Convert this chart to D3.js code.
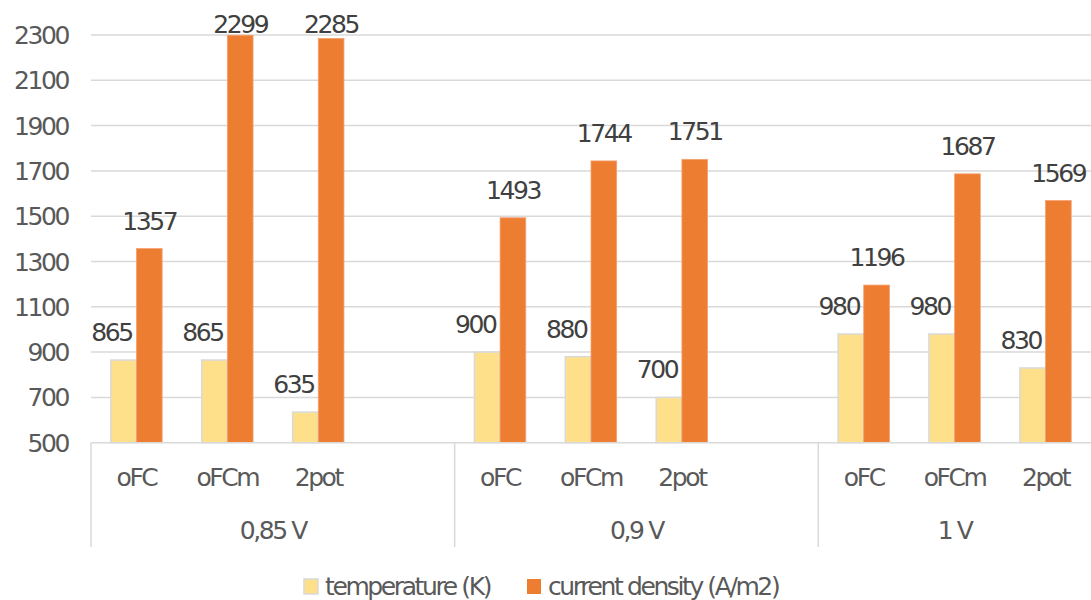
<!DOCTYPE html>
<html>
<head>
<meta charset="utf-8">
<script src="https://cdn.jsdelivr.net/npm/d3@7"></script>
<style>
  body { margin: 0; background: #fff; }
  text { font-family: "DejaVu Sans", sans-serif; font-size: 25px; letter-spacing: -2.4px; }
</style>
</head>
<body>
<div id="chart"></div>
<script>
// data
var groups = ["0,85 V", "0,9 V", "1 V"];
var subCategories = ["oFC", "oFCm", "2pot"];
var seriesNames = ["temperature (K)", "current density (A/m2)"];
var temperature = [865, 865, 635, 900, 880, 700, 980, 980, 830];
var currentDensity = [1357, 2299, 2285, 1493, 1744, 1751, 1196, 1687, 1569];
var yTicks = [500, 700, 900, 1100, 1300, 1500, 1700, 1900, 2100, 2300];

var width = 1091, height = 600;
var margin = {top: 35, right: 0, bottom: 157, left: 91};
var colors = ["#FFE08A", "#ED7D31"];

var svg = d3.select("#chart")
  .append("svg")
    .attr("width", width)
    .attr("height", height);

// slots: each group has its sub categories, plus an empty slot between groups
var slots = [];
groups.forEach(function(g, gi) {
    subCategories.forEach(function(s) { slots.push(gi + "|" + s); });
    if (gi < groups.length - 1) slots.push(gi + "|gap");
});

var rows = [];
groups.forEach(function(g, gi) {
    subCategories.forEach(function(s, si) {
        var i = gi * subCategories.length + si;
        rows.push({slot: gi + "|" + s, group: gi, sub: s, values: [temperature[i], currentDensity[i]]});
    });
});

var x = d3.scaleBand()
    .domain(slots)
    .range([margin.left, width - margin.right])
    .padding(0);

var xSeries = d3.scaleBand()
    .domain([0, 1])
    .range([0, x.bandwidth()])
    .paddingInner(0)
    .paddingOuter(0.77);

var plotBottom = 442.7;
var y = d3.scaleLinear()
    .domain([500, 2300])
    .range([plotBottom, margin.top]);

// gridlines
svg.append("g")
    .selectAll("line")
    .data(yTicks.slice(1))
    .enter().append("line")
      .attr("x1", margin.left)
      .attr("x2", width)
      .attr("y1", function(d) { return y(d); })
      .attr("y2", function(d) { return y(d); })
      .style("stroke", "#D9D9D9")
      .style("stroke-width", 1.5);

// y tick labels
svg.append("g")
    .selectAll("text")
    .data(yTicks)
    .enter().append("text")
      .attr("x", 68)
      .attr("y", function(d) { return y(d); })
      .attr("dy", "0.36em")
      .attr("text-anchor", "end")
      .style("fill", "#595959")
      .text(function(d) { return d; });

// bars
var cat = svg.append("g")
    .selectAll("g")
    .data(rows)
    .enter().append("g")
      .attr("transform", function(d) { return "translate(" + x(d.slot) + ",0)"; });

cat.selectAll("rect")
    .data(function(d) { return d.values; })
    .enter().append("rect")
      .attr("x", function(d, i) { return xSeries(i); })
      .attr("y", function(d) { return y(d); })
      .attr("width", xSeries.bandwidth())
      .attr("height", function(d) { return plotBottom - y(d); })
      .style("fill", function(d, i) { return colors[i]; })
      .style("stroke", function(d, i) { return i === 0 ? "#D9D9D9" : "#F4A070"; })
      .style("stroke-width", function(d, i) { return i === 0 ? 1.5 : 0.8; });

// data labels
cat.selectAll("text")
    .data(function(d) { return d.values; })
    .enter().append("text")
      .attr("x", function(d, i) { return xSeries(i) + xSeries.bandwidth() / 2 + (i === 0 ? -12 : 0); })
      .attr("y", function(d) { return Math.max(33, y(d) - 19); })
      .attr("text-anchor", "middle")
      .style("fill", "#404040")
      .text(function(d) { return d; });

// category axis line
svg.append("line")
    .attr("x1", margin.left)
    .attr("x2", width)
    .attr("y1", plotBottom)
    .attr("y2", plotBottom)
    .style("stroke", "#D9D9D9")
    .style("stroke-width", 1.5);

// sub category labels
svg.append("g")
    .selectAll("text")
    .data(rows)
    .enter().append("text")
      .attr("x", function(d) { return x(d.slot) + x.bandwidth() / 2; })
      .attr("y", 486)
      .attr("text-anchor", "middle")
      .style("fill", "#595959")
      .text(function(d) { return d.sub; });

// group labels and separators
var groupExtent = groups.map(function(g, gi) {
    var own = slots.filter(function(s) { return s.split("|")[0] === String(gi); });
    var x0 = x(own[0]);
    var x1 = x(own[own.length - 1]) + x.bandwidth();
    return {name: g, x0: x0, x1: x1};
});

svg.append("g")
    .selectAll("line")
    .data(groupExtent)
    .enter().append("line")
      .attr("x1", function(d) { return d.x0; })
      .attr("x2", function(d) { return d.x0; })
      .attr("y1", plotBottom)
      .attr("y2", 547)
      .style("stroke", "#D9D9D9")
      .style("stroke-width", 1.5);

svg.append("g")
    .selectAll("text")
    .data(groupExtent)
    .enter().append("text")
      .attr("x", function(d) { return (d.x0 + d.x1) / 2; })
      .attr("y", 539)
      .attr("text-anchor", "middle")
      .style("fill", "#595959")
      .text(function(d) { return d.name; });

// legend
var legendX = [304, 527];
var legend = svg.append("g")
    .selectAll("g")
    .data(seriesNames)
    .enter().append("g")
      .attr("transform", function(d, i) { return "translate(" + legendX[i] + ",579)"; });

legend.append("rect")
    .attr("width", 14)
    .attr("height", 15)
    .style("fill", function(d, i) { return colors[i]; })
    .style("stroke", function(d, i) { return i === 0 ? "#D9D9D9" : "none"; })
    .style("stroke-width", 1.5);

legend.append("text")
    .attr("x", 21)
    .attr("y", 16)
    .style("fill", "#595959")
    .text(function(d) { return d; });
</script>
</body>
</html>
